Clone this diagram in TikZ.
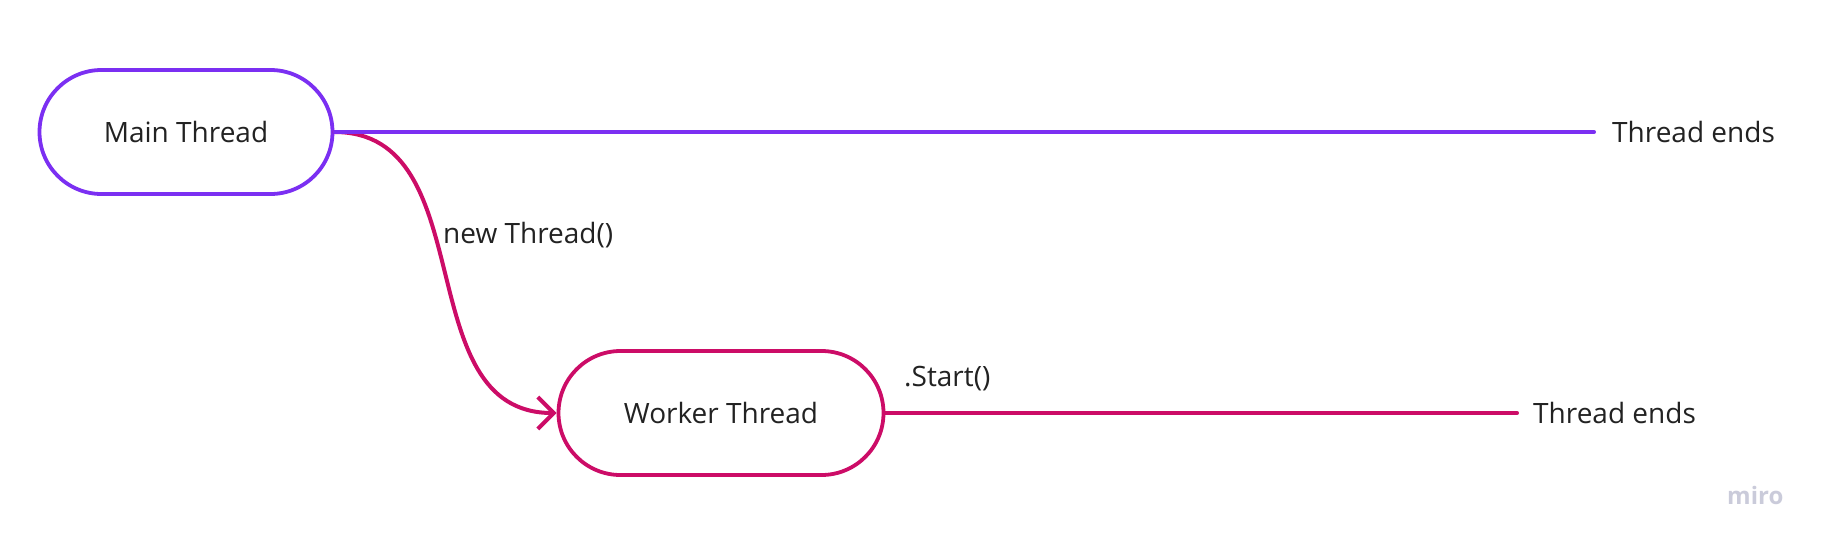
\documentclass[tikz,border=0pt]{standalone}
\usepackage{fontspec}
\setmainfont{Open Sans}
\usetikzlibrary{arrows.meta}
\definecolor{mainpurple}{HTML}{7B2FF2}
\definecolor{workerpink}{HTML}{CC0C67}
\definecolor{textgrey}{HTML}{222222}
\definecolor{logogrey}{HTML}{CACBDA}
\tikzset{
  thread/.style={draw, line width=3.8pt, rounded corners=62pt, minimum width=293pt,
    minimum height=124pt, text=textgrey, font=\fontsize{28}{34}\selectfont},
  caption/.style={text=textgrey, font=\fontsize{28}{34}\selectfont, inner sep=0pt},
  link/.style={line width=4pt, line cap=round},
}
\begin{document}
\begin{tikzpicture}[x=1pt,y=-1pt]
    \useasboundingbox (0,0) rectangle (1827,547);
    \node[thread, draw=mainpurple] (main) at (186,132) {Main Thread};
    \node[thread, draw=workerpink, minimum width=325pt] (worker) at (721,413) {Worker Thread};

    \coordinate (mainend) at (1594,132);
    \coordinate (workerend) at (1517,413);

    \draw[link, workerpink, -{Straight Barb[length=16pt,width=32pt]}]
        (main.east) .. controls +(150,0) and +(-150,0) .. (worker.west);
    \draw[link, mainpurple] (main.east) -- (mainend);
    \draw[link, workerpink] (worker.east) -- (workerend);

    \node[caption, anchor=base west] (mainendlbl) at (1612,142) {Thread ends};
    \node[caption, anchor=base west] (workerendlbl) at (1533,423) {Thread ends};
    \node[caption, anchor=base west] (newlbl) at (443,243) {new Thread()};
    \node[caption, anchor=base west] (startlbl) at (904,386) {.Start()};

    \node[anchor=base west, inner sep=0pt, text=logogrey,
        font=\fontsize{24}{28}\selectfont\bfseries] (logo) at (1727,504) {miro};
\end{tikzpicture}
\end{document}
